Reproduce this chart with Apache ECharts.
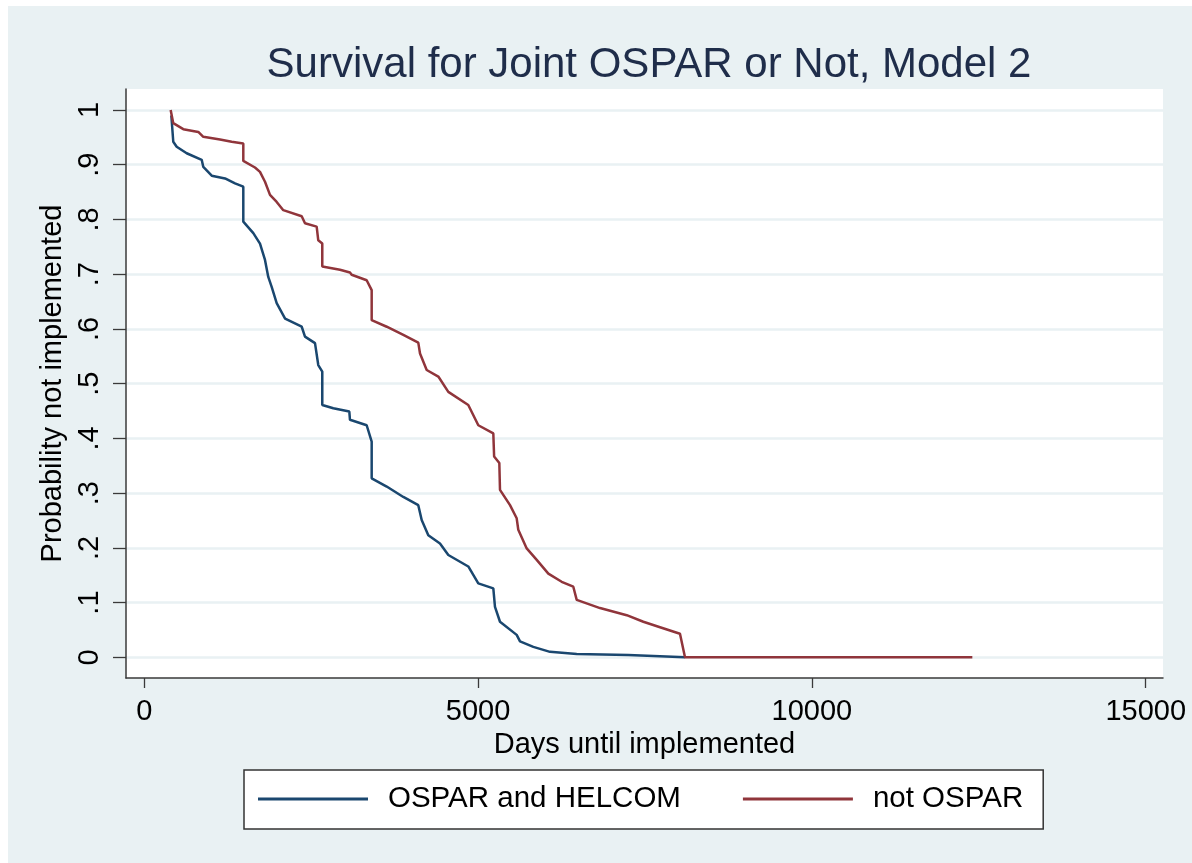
<!DOCTYPE html>
<html><head><meta charset="utf-8">
<script src="https://cdn.jsdelivr.net/npm/echarts@6/dist/echarts.min.js"></script>
<style>html,body{margin:0;padding:0;background:#fff}#c{width:1192px;height:863px}</style>
</head><body><div id="c"></div>
<script>
const chartTitle = 'Survival for Joint OSPAR or Not, Model 2';
const xAxisTitle = 'Days until implemented';
const yAxisTitle = 'Probability not implemented';
const seriesNames = ['OSPAR and HELCOM', 'not OSPAR'];
const xTickValues = [0, 5000, 10000, 15000];
const xTickLabels = ['0', '5000', '10000', '15000'];
const yTickValues = [0, 0.1, 0.2, 0.3, 0.4, 0.5, 0.6, 0.7, 0.8, 0.9, 1];
const yTickLabels = ['0', '.1', '.2', '.3', '.4', '.5', '.6', '.7', '.8', '.9', '1'];

// [days, survival probability]
const osparHelcom = [
  [405, 0.99], [434, 0.942], [485, 0.933], [635, 0.921], [860, 0.909], [884, 0.896],
  [1010, 0.880], [1209, 0.875], [1359, 0.866], [1483, 0.860], [1483, 0.796], [1633, 0.775],
  [1733, 0.756], [1808, 0.726], [1857, 0.695], [1908, 0.677], [1983, 0.647], [2109, 0.619],
  [2358, 0.604], [2407, 0.586], [2557, 0.574], [2606, 0.534], [2666, 0.522], [2666, 0.461],
  [2831, 0.455], [3071, 0.449], [3081, 0.434], [3331, 0.424], [3406, 0.394], [3406, 0.327],
  [3631, 0.312], [3880, 0.293], [4104, 0.278], [4155, 0.251], [4254, 0.223], [4429, 0.208],
  [4554, 0.187], [4853, 0.166], [5003, 0.135], [5228, 0.126], [5253, 0.092], [5328, 0.065],
  [5578, 0.041], [5628, 0.029], [5827, 0.019], [6077, 0.010], [6477, 0.006], [6501, 0.004],
  [7250, 0.004], [7275, 0.001], [8100, 0.0]
];
const notOspar = [
  [395, 1.0], [434, 0.976], [584, 0.965], [809, 0.960], [884, 0.951], [1134, 0.946],
  [1309, 0.942], [1483, 0.939], [1483, 0.907], [1658, 0.895], [1733, 0.887], [1808, 0.869],
  [1883, 0.845], [1983, 0.832], [2082, 0.817], [2358, 0.806], [2407, 0.793], [2582, 0.787],
  [2606, 0.762], [2666, 0.756], [2666, 0.714], [2931, 0.708], [3081, 0.703], [3106, 0.699],
  [3331, 0.689], [3406, 0.671], [3406, 0.616], [3631, 0.604], [3880, 0.589], [4104, 0.575],
  [4130, 0.555], [4230, 0.525], [4404, 0.513], [4554, 0.485], [4853, 0.461], [5003, 0.424],
  [5228, 0.409], [5240, 0.367], [5318, 0.355], [5328, 0.306], [5478, 0.278], [5578, 0.254],
  [5602, 0.233], [5728, 0.199], [5878, 0.178], [6052, 0.153], [6252, 0.138], [6426, 0.129],
  [6477, 0.105], [6826, 0.090], [7226, 0.077], [7475, 0.065], [7725, 0.055], [8024, 0.043],
  [8099, 0.0], [12403, 0.0]
];

const FONT = '"Liberation Sans", Arial, sans-serif';
const chart = echarts.init(document.getElementById('c'), null, {renderer: 'canvas'});
chart.setOption({
  animation: false,
  backgroundColor: '#ffffff',
  graphic: [{
    type: 'rect', z: -10, silent: true,
    shape: {x: 8, y: 6, width: 1184, height: 857},
    style: {fill: '#E9F1F3'}
  }],
  title: {
    text: chartTitle,
    left: 644, top: 39, textAlign: 'center',
    textStyle: {fontFamily: FONT, fontSize: 42, fontWeight: 'normal', color: '#1f2d4a'}
  },
  grid: {
    left: 126, right: 29, top: 89, bottom: 185,
    show: true, backgroundColor: '#ffffff', borderWidth: 0
  },
  legend: {
    data: seriesNames,
    left: 244, top: 770,
    padding: [14, 20, 15, 14],
    orient: 'horizontal',
    icon: 'rect',
    itemWidth: 110, itemHeight: 3,
    itemGap: 62,
    backgroundColor: '#ffffff',
    borderColor: '#333333', borderWidth: 1.5, borderRadius: 0,
    textStyle: {fontFamily: FONT, fontSize: 29.5, color: '#000', padding: [0, 0, 0, 15]}
  },
  xAxis: {
    type: 'value',
    min: -274, max: 15259,
    name: xAxisTitle, nameLocation: 'middle', nameGap: 50,
    nameTextStyle: {fontFamily: FONT, fontSize: 29, color: '#000'},
    axisLine: {show: true, onZero: false, lineStyle: {color: '#3a3a3a', width: 1.5}},
    axisTick: {show: true, length: 10, lineStyle: {color: '#3a3a3a', width: 1.3}, customValues: xTickValues},
    axisLabel: {
      fontFamily: FONT, fontSize: 29, color: '#000', margin: 19,
      customValues: xTickValues,
      formatter: v => xTickLabels[xTickValues.indexOf(v)] ?? ''
    },
    splitLine: {show: false}
  },
  yAxis: {
    type: 'value',
    min: -0.0378, max: 1.0384,
    name: yAxisTitle, nameLocation: 'middle', nameGap: 50, nameRotate: 90,
    nameTextStyle: {fontFamily: FONT, fontSize: 29, color: '#000'},
    axisLine: {show: true, onZero: false, lineStyle: {color: '#3a3a3a', width: 1.5}},
    axisTick: {show: true, length: 13, lineStyle: {color: '#3a3a3a', width: 1.3}, customValues: yTickValues},
    axisLabel: {
      fontFamily: FONT, fontSize: 29, color: '#000', margin: 22, rotate: 90,
      customValues: yTickValues,
      formatter: v => yTickLabels[Math.round(v * 10)] ?? ''
    },
    splitLine: {show: true, lineStyle: {color: '#E9F1F3', width: 2.5}}
  },
  series: [
    {
      name: seriesNames[0], type: 'line', data: osparHelcom,
      showSymbol: false, symbol: 'none', z: 2,
      itemStyle: {color: '#1A476F'},
      lineStyle: {color: '#1A476F', width: 2.5}
    },
    {
      name: seriesNames[1], type: 'line', data: notOspar,
      showSymbol: false, symbol: 'none', z: 3,
      itemStyle: {color: '#90353B'},
      lineStyle: {color: '#90353B', width: 2.5}
    }
  ]
});
</script>
</body></html>
